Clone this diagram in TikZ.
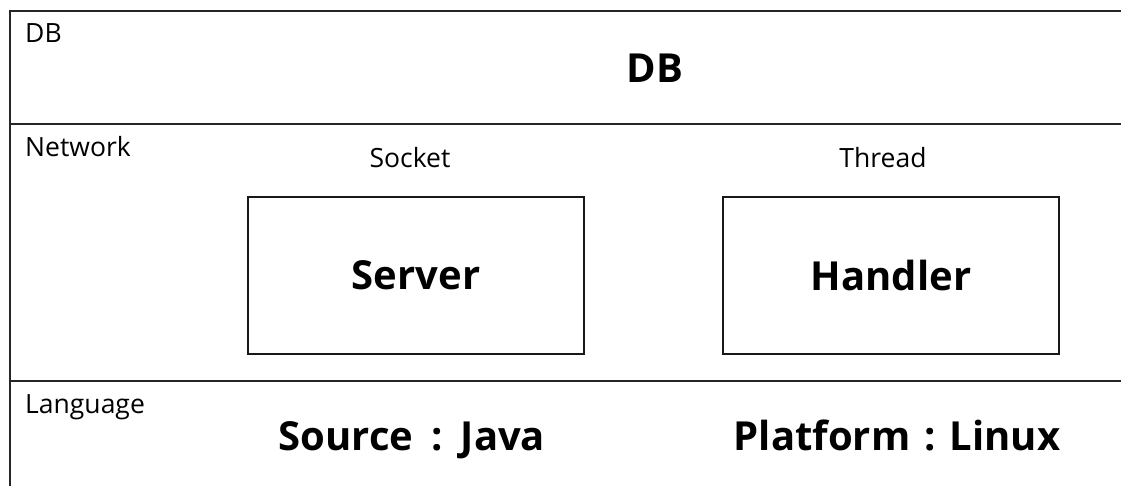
\documentclass[tikz,border=0pt]{standalone}
\usepackage{fontspec}
\setmainfont{Open Sans}
\begin{document}
\begin{tikzpicture}[x=1pt,y=-1pt,
  frameline/.style={line width=1.8pt, draw=black!85},
  small/.style={font=\fontsize{26.5}{30}\selectfont, inner sep=0pt},
  big/.style={font=\fontsize{40}{46}\selectfont\bfseries, inner sep=0pt},
  compbox/.style={draw=black!90, line width=1.8pt, minimum width=336pt, minimum height=157pt, inner sep=0pt, font=\fontsize{40}{46}\selectfont\bfseries}]
\useasboundingbox (0,0) rectangle (1121,486);
\fill[white] (0,0) rectangle (1121,486);
% frame
\draw[frameline] (1121,11) -- (10,11) -- (10,486);
\draw[frameline] (10,124) -- (1121,124);
\draw[frameline] (10,381) -- (1121,381);
% section labels
\node[small, anchor=base west] (ldb) at (25,43) {DB};
\node[small, anchor=base west] (lnet) at (25,157) {Network};
\node[small, anchor=base west] (llang) at (25,413) {Language};
% DB title
\node[big, anchor=base] (db) at (655,83) {DB};
% network row
\node[small, anchor=base] (socket) at (410,168) {Socket};
\node[small, anchor=base] (thread) at (883,168) {Thread};
\node[compbox] (server) at (416,275.5) {Server};
\node[compbox] (handler) at (891,275.5) {Handler};
% language row
\node[big, anchor=base] (src) at (412,450) {Source\hspace{0.45em}:\hspace{0.45em}Java};
\node[big, anchor=base] (plat) at (897,450) {Platform\hspace{0.35em}:\hspace{0.35em}Linux};
\end{tikzpicture}
\end{document}
